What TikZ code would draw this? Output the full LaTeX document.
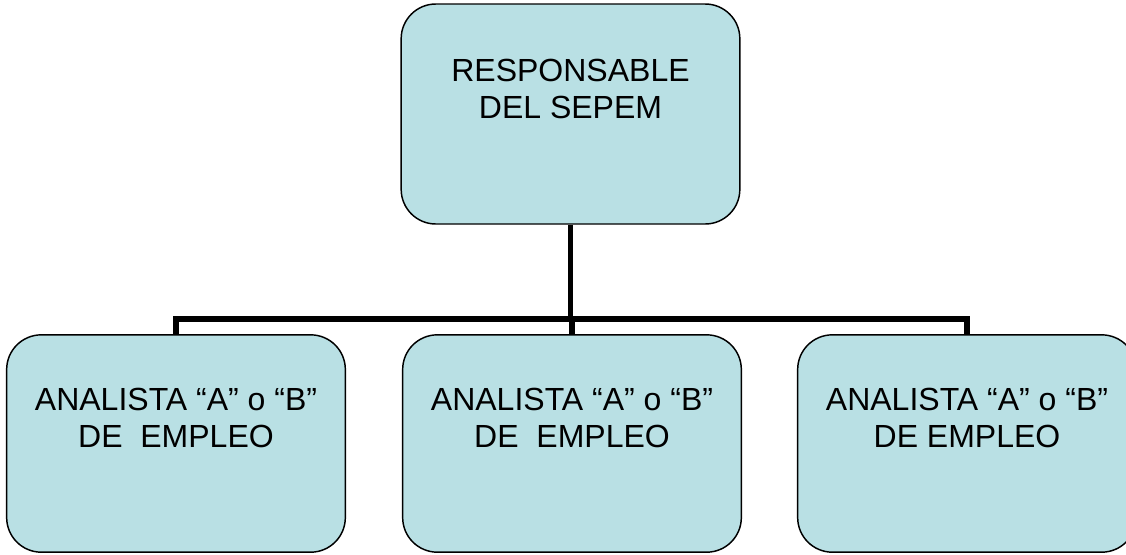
\documentclass[tikz,border=0pt]{standalone}
\usepackage{fontspec}
\setmainfont{Liberation Sans}
\usetikzlibrary{positioning}

\definecolor{boxblue}{RGB}{185,224,228}

\tikzset{
  orgbox/.style={rectangle, draw, line width=1.1pt, fill=boxblue, rounded corners=26pt,
                 minimum width=254pt, inner sep=0pt},
  boxtext/.style={align=center, inner sep=0pt, font=\fontsize{24}{27.75}\selectfont},
  conn/.style={line width=4pt, line join=miter}
}

\begin{document}
\begin{tikzpicture}[x=0.75pt, y=-0.75pt]
  \useasboundingbox (0,0) rectangle (1126,554);

  \node (head) [orgbox, minimum height=165pt] at (570.5, 114) {};
  \node (anal1) [orgbox, minimum height=163pt] at (176, 443.5) {};
  \node (anal2) [orgbox, minimum height=163pt] at (572, 443.5) {};
  \node (anal3) [orgbox, minimum height=163pt] at (967, 443.5) {};

  \node (headtxt) [boxtext, below=42pt of head.north] {RESPONSABLE\\DEL SEPEM};
  \node (anal1txt) [boxtext, below=40.5pt of anal1.north] {ANALISTA “A” o “B”\\DE\ \ EMPLEO};
  \node (anal2txt) [boxtext, below=40.5pt of anal2.north] {ANALISTA “A” o “B”\\DE\ \ EMPLEO};
  \node (anal3txt) [boxtext, below=40.5pt of anal3.north] {ANALISTA “A” o “B”\\DE EMPLEO};

  \coordinate (bus) at (570.5, 319);
  \draw[conn] (head.south) -- (bus);
  \draw[conn] (anal1.north) |- (bus) -| (anal3.north);
  \draw[conn] (anal2.north) -- (anal2.north |- bus);
\end{tikzpicture}
\end{document}
